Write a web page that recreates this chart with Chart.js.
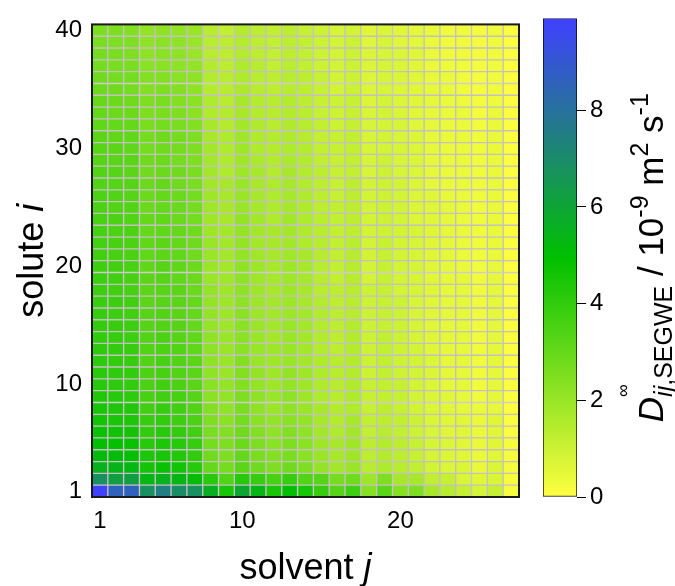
<!DOCTYPE html>
<html>
<head>
<meta charset="utf-8">
<script src="https://cdn.jsdelivr.net/npm/chart.js@4.4.1/dist/chart.umd.min.js"></script>
<style>
  html, body { margin: 0; padding: 0; background: #fff; }
  #wrap { position: relative; width: 675px; height: 586px; }
  #wrap canvas { position: absolute; left: 0; top: 0; }
</style>
</head>
<body>
<div id="wrap">
  <canvas id="heat" width="675" height="586"></canvas>
  <canvas id="cbar" width="675" height="586"></canvas>
</div>
<script>
// axes
const solventLabels = ['1','2','3','4','5','6','7','8','9','10','11','12','13','14','15','16','17','18','19','20','21','22','23','24','25','26','27'];
const soluteNumbers = [1,2,3,4,5,6,7,8,9,10,11,12,13,14,15,16,17,18,19,20,21,22,23,24,25,26,27,28,29,30,31,32,33,34,35,36,37,38,39,40];
const xTickLabels = ['1', '10', '20'];
const yTickValues = [1, 10, 20, 30, 40];
const cbTickValues = [0, 2, 4, 6, 8];
const cbMax = 9.9;

// D_ij (10^-9 m^2/s), one array per solute i, solvents 1..27
const solute01 = [9.9, 8.6, 8.6, 6.8, 7.5, 6.9, 6.8, 5.6, 4.5, 5.9, 5.3, 4.5, 5.0, 4.5, 3.9, 3.3, 3.75, 2.35, 3.2, 2.35, 2.5, 1.7, 1.4, 1.1, 0.8, 1.1, 0.15];
const solute02 = [6.8, 6.25, 6.25, 5.3, 5.5, 5.3, 5.1, 4.2, 3.4, 4.2, 3.9, 3.6, 3.9, 3.4, 3.3, 2.65, 2.8, 1.9, 2.5, 1.7, 1.7, 1.25, 1.1, 0.75, 0.6, 0.75, 0.15];
const solute03 = [5.5, 5.4, 5.3, 4.6, 4.8, 4.6, 4.2, 3.0, 2.7, 3.2, 2.8, 2.5, 2.8, 2.5, 2.1, 1.8, 2.0, 1.4, 1.6, 1.4, 1.2, 0.9, 0.7, 0.7, 0.4, 0.7, 0.2];
const solute04 = [5.2, 5.1, 5.0, 4.4, 4.5, 4.3, 4.0, 2.8, 2.5, 3.0, 2.6, 2.4, 2.6, 2.3, 2.0, 1.7, 1.9, 1.3, 1.5, 1.3, 1.1, 0.8, 0.7, 0.6, 0.4, 0.6, 0.2];
const solute05 = [5.0, 4.9, 4.8, 4.2, 4.4, 4.2, 3.9, 2.7, 2.5, 2.9, 2.5, 2.3, 2.5, 2.3, 1.9, 1.7, 1.9, 1.3, 1.5, 1.3, 1.1, 0.8, 0.7, 0.6, 0.4, 0.6, 0.2];
const solute06 = [4.8, 4.7, 4.6, 4.0, 4.2, 4.0, 3.7, 2.6, 2.4, 2.8, 2.4, 2.2, 2.4, 2.2, 1.8, 1.6, 1.8, 1.2, 1.4, 1.2, 1.0, 0.8, 0.6, 0.6, 0.4, 0.6, 0.1];
const solute07 = [4.6, 4.5, 4.4, 3.9, 4.0, 3.8, 3.5, 2.5, 2.3, 2.7, 2.3, 2.1, 2.3, 2.1, 1.7, 1.5, 1.7, 1.2, 1.3, 1.2, 1.0, 0.7, 0.6, 0.6, 0.4, 0.6, 0.1];
const solute08 = [4.5, 4.4, 4.3, 3.7, 3.9, 3.7, 3.4, 2.4, 2.2, 2.6, 2.2, 2.0, 2.2, 2.0, 1.7, 1.5, 1.6, 1.1, 1.3, 1.1, 0.9, 0.7, 0.6, 0.5, 0.4, 0.5, 0.1];
const solute09 = [4.3, 4.2, 4.1, 3.6, 3.7, 3.6, 3.3, 2.3, 2.1, 2.5, 2.2, 2.0, 2.2, 1.9, 1.6, 1.4, 1.6, 1.1, 1.2, 1.1, 0.9, 0.7, 0.6, 0.5, 0.3, 0.5, 0.1];
const solute10 = [4.2, 4.1, 4.0, 3.5, 3.7, 3.5, 3.2, 2.3, 2.1, 2.4, 2.1, 1.9, 2.1, 1.9, 1.6, 1.4, 1.6, 1.1, 1.2, 1.1, 0.9, 0.7, 0.5, 0.5, 0.3, 0.5, 0.1];
const solute11 = [4.15, 4.1, 4.0, 3.5, 3.6, 3.4, 3.2, 2.2, 2.0, 2.4, 2.1, 1.9, 2.1, 1.9, 1.6, 1.4, 1.5, 1.0, 1.2, 1.0, 0.9, 0.7, 0.5, 0.5, 0.3, 0.5, 0.1];
const solute12 = [4.1, 4.0, 3.9, 3.4, 3.6, 3.4, 3.2, 2.2, 2.0, 2.4, 2.0, 1.9, 2.0, 1.8, 1.6, 1.4, 1.5, 1.0, 1.2, 1.0, 0.9, 0.7, 0.5, 0.5, 0.3, 0.5, 0.1];
const solute13 = [4.05, 4.0, 3.9, 3.4, 3.5, 3.4, 3.1, 2.2, 2.0, 2.3, 2.0, 1.9, 2.0, 1.8, 1.5, 1.3, 1.5, 1.0, 1.2, 1.0, 0.9, 0.6, 0.5, 0.5, 0.3, 0.5, 0.1];
const solute14 = [4.0, 3.9, 3.8, 3.4, 3.5, 3.3, 3.1, 2.2, 2.0, 2.3, 2.0, 1.8, 2.0, 1.8, 1.5, 1.3, 1.5, 1.0, 1.2, 1.0, 0.8, 0.6, 0.5, 0.5, 0.3, 0.5, 0.1];
const solute15 = [3.95, 3.9, 3.8, 3.3, 3.4, 3.3, 3.0, 2.1, 1.9, 2.3, 2.0, 1.8, 2.0, 1.8, 1.5, 1.3, 1.5, 1.0, 1.1, 1.0, 0.8, 0.6, 0.5, 0.5, 0.3, 0.5, 0.1];
const solute16 = [3.9, 3.8, 3.7, 3.3, 3.4, 3.2, 3.0, 2.1, 1.9, 2.3, 1.9, 1.8, 1.9, 1.8, 1.5, 1.3, 1.4, 1.0, 1.1, 1.0, 0.8, 0.6, 0.5, 0.5, 0.3, 0.5, 0.1];
const solute17 = [3.85, 3.8, 3.7, 3.2, 3.3, 3.2, 3.0, 2.1, 1.9, 2.2, 1.9, 1.8, 1.9, 1.7, 1.5, 1.3, 1.4, 1.0, 1.1, 1.0, 0.8, 0.6, 0.5, 0.5, 0.3, 0.5, 0.1];
const solute18 = [3.8, 3.7, 3.6, 3.2, 3.3, 3.2, 2.9, 2.1, 1.9, 2.2, 1.9, 1.7, 1.9, 1.7, 1.4, 1.3, 1.4, 1.0, 1.1, 0.9, 0.8, 0.6, 0.5, 0.5, 0.3, 0.5, 0.1];
const solute19 = [3.8, 3.7, 3.6, 3.2, 3.3, 3.1, 2.9, 2.0, 1.9, 2.2, 1.9, 1.7, 1.9, 1.7, 1.4, 1.2, 1.4, 0.9, 1.1, 0.9, 0.8, 0.6, 0.5, 0.5, 0.3, 0.5, 0.1];
const solute20 = [3.75, 3.7, 3.6, 3.1, 3.3, 3.1, 2.9, 2.0, 1.8, 2.2, 1.9, 1.7, 1.9, 1.7, 1.4, 1.2, 1.4, 0.9, 1.1, 0.9, 0.8, 0.6, 0.5, 0.4, 0.3, 0.45, 0.1];
const solute21 = [3.7, 3.6, 3.5, 3.1, 3.2, 3.1, 2.8, 2.0, 1.8, 2.1, 1.85, 1.7, 1.85, 1.7, 1.4, 1.2, 1.4, 0.9, 1.1, 0.9, 0.8, 0.6, 0.5, 0.4, 0.3, 0.4, 0.1];
const solute22 = [3.65, 3.6, 3.5, 3.1, 3.2, 3.0, 2.8, 2.0, 1.8, 2.1, 1.8, 1.7, 1.8, 1.6, 1.4, 1.2, 1.35, 0.9, 1.1, 0.9, 0.8, 0.6, 0.5, 0.4, 0.3, 0.4, 0.1];
const solute23 = [3.6, 3.5, 3.5, 3.0, 3.1, 3.0, 2.8, 1.9, 1.8, 2.1, 1.8, 1.7, 1.8, 1.6, 1.4, 1.2, 1.3, 0.9, 1.0, 0.9, 0.8, 0.6, 0.5, 0.4, 0.3, 0.4, 0.1];
const solute24 = [3.55, 3.5, 3.4, 3.0, 3.1, 2.9, 2.7, 1.9, 1.7, 2.1, 1.8, 1.6, 1.8, 1.6, 1.35, 1.2, 1.3, 0.9, 1.0, 0.9, 0.7, 0.6, 0.5, 0.4, 0.3, 0.4, 0.1];
const solute25 = [3.5, 3.4, 3.4, 2.9, 3.0, 2.9, 2.7, 1.9, 1.7, 2.0, 1.75, 1.6, 1.75, 1.6, 1.3, 1.2, 1.3, 0.9, 1.0, 0.9, 0.7, 0.6, 0.5, 0.4, 0.3, 0.4, 0.1];
const solute26 = [3.45, 3.4, 3.3, 2.9, 3.0, 2.9, 2.7, 1.9, 1.7, 2.0, 1.7, 1.6, 1.7, 1.55, 1.3, 1.1, 1.3, 0.9, 1.0, 0.9, 0.7, 0.6, 0.45, 0.4, 0.3, 0.4, 0.1];
const solute27 = [3.4, 3.3, 3.3, 2.9, 3.0, 2.8, 2.6, 1.8, 1.7, 2.0, 1.7, 1.6, 1.7, 1.5, 1.3, 1.1, 1.3, 0.85, 1.0, 0.85, 0.7, 0.5, 0.4, 0.4, 0.3, 0.4, 0.1];
const solute28 = [3.35, 3.3, 3.2, 2.8, 2.9, 2.8, 2.6, 1.8, 1.6, 1.9, 1.7, 1.5, 1.7, 1.5, 1.3, 1.1, 1.2, 0.8, 1.0, 0.8, 0.7, 0.5, 0.4, 0.4, 0.3, 0.4, 0.1];
const solute29 = [3.3, 3.2, 3.2, 2.8, 2.9, 2.7, 2.5, 1.8, 1.6, 1.9, 1.65, 1.5, 1.65, 1.5, 1.25, 1.1, 1.2, 0.8, 1.0, 0.8, 0.7, 0.5, 0.4, 0.4, 0.3, 0.4, 0.1];
const solute30 = [3.25, 3.2, 3.1, 2.7, 2.8, 2.7, 2.5, 1.8, 1.6, 1.9, 1.6, 1.5, 1.6, 1.5, 1.2, 1.1, 1.2, 0.8, 0.9, 0.8, 0.7, 0.5, 0.4, 0.4, 0.3, 0.4, 0.1];
const solute31 = [3.2, 3.1, 3.1, 2.7, 2.8, 2.7, 2.5, 1.7, 1.6, 1.9, 1.6, 1.5, 1.6, 1.4, 1.2, 1.1, 1.2, 0.8, 0.9, 0.8, 0.7, 0.5, 0.4, 0.4, 0.3, 0.4, 0.1];
const solute32 = [3.1, 3.0, 3.0, 2.6, 2.7, 2.6, 2.4, 1.7, 1.5, 1.8, 1.55, 1.4, 1.55, 1.4, 1.2, 1.0, 1.15, 0.8, 0.9, 0.8, 0.65, 0.5, 0.4, 0.4, 0.25, 0.4, 0.1];
const solute33 = [3.0, 2.9, 2.9, 2.5, 2.6, 2.5, 2.3, 1.6, 1.5, 1.7, 1.5, 1.4, 1.5, 1.35, 1.1, 1.0, 1.1, 0.75, 0.9, 0.75, 0.6, 0.5, 0.4, 0.4, 0.2, 0.4, 0.1];
const solute34 = [2.95, 2.9, 2.8, 2.5, 2.6, 2.4, 2.3, 1.6, 1.4, 1.7, 1.5, 1.4, 1.5, 1.3, 1.1, 1.0, 1.1, 0.7, 0.9, 0.7, 0.6, 0.5, 0.4, 0.35, 0.2, 0.35, 0.1];
const solute35 = [2.85, 2.8, 2.7, 2.4, 2.5, 2.4, 2.2, 1.5, 1.4, 1.65, 1.4, 1.3, 1.4, 1.3, 1.1, 0.9, 1.05, 0.7, 0.8, 0.7, 0.6, 0.5, 0.4, 0.3, 0.2, 0.3, 0.1];
const solute36 = [2.8, 2.7, 2.7, 2.4, 2.4, 2.3, 2.2, 1.5, 1.4, 1.6, 1.4, 1.3, 1.4, 1.3, 1.1, 0.9, 1.0, 0.7, 0.8, 0.7, 0.6, 0.45, 0.4, 0.3, 0.2, 0.3, 0.1];
const solute37 = [2.7, 2.6, 2.6, 2.3, 2.3, 2.2, 2.1, 1.5, 1.3, 1.6, 1.4, 1.2, 1.35, 1.2, 1.0, 0.9, 1.0, 0.7, 0.8, 0.7, 0.6, 0.4, 0.35, 0.3, 0.2, 0.3, 0.1];
const solute38 = [2.65, 2.6, 2.5, 2.2, 2.3, 2.2, 2.0, 1.4, 1.3, 1.5, 1.3, 1.2, 1.3, 1.2, 1.0, 0.9, 1.0, 0.7, 0.8, 0.7, 0.6, 0.4, 0.3, 0.3, 0.2, 0.3, 0.1];
const solute39 = [2.6, 2.55, 2.5, 2.2, 2.3, 2.2, 2.0, 1.4, 1.3, 1.5, 1.3, 1.2, 1.3, 1.2, 1.0, 0.9, 1.0, 0.65, 0.8, 0.65, 0.55, 0.4, 0.3, 0.3, 0.2, 0.3, 0.1];
const solute40 = [2.55, 2.5, 2.45, 2.1, 2.2, 2.1, 2.0, 1.4, 1.2, 1.5, 1.3, 1.2, 1.3, 1.1, 1.0, 0.8, 0.9, 0.6, 0.7, 0.6, 0.5, 0.4, 0.3, 0.3, 0.2, 0.3, 0.1];

const soluteRows = [solute01, solute02, solute03, solute04, solute05, solute06, solute07, solute08, solute09, solute10,
  solute11, solute12, solute13, solute14, solute15, solute16, solute17, solute18, solute19, solute20,
  solute21, solute22, solute23, solute24, solute25, solute26, solute27, solute28, solute29, solute30,
  solute31, solute32, solute33, solute34, solute35, solute36, solute37, solute38, solute39, solute40];

// yellow -> green -> blue palette over [0, cbMax]
const palette = [[255, 255, 64], [0, 192, 0], [64, 64, 255]];
const FONT = "'Liberation Sans', Arial, Helvetica, sans-serif";
const gridColor = '#c4c0c4';

function colorFor(v) {
  let t = Math.max(0, Math.min(1, v / cbMax)) * 2;
  const k = t >= 1 ? 1 : 0;
  t = t - k;
  const a = palette[k], b = palette[k + 1];
  const c = a.map((x, n) => Math.round(x + (b[n] - x) * t));
  return `rgb(${c[0]},${c[1]},${c[2]})`;
}

// draws a line of mixed text (italic, sub/superscript) centred on (cx, cy)
function drawRich(ctx, parts, cx, cy, angle, size) {
  const fontOf = p => `${p.italic ? 'italic ' : ''}${Math.round(size * (p.scale || 1))}px ${FONT}`;
  let total = 0;
  parts.forEach(p => {
    ctx.font = fontOf(p);
    p.w = ctx.measureText(p.t).width;
    if (!p.stay) total += p.w;
  });
  ctx.save();
  ctx.translate(cx, cy);
  ctx.rotate(angle);
  ctx.textBaseline = 'alphabetic';
  ctx.textAlign = 'left';
  let x = -total / 2;
  const base = size * 0.36;
  parts.forEach(p => {
    ctx.font = fontOf(p);
    ctx.fillText(p.t, x, base + (p.dy || 0) * size);
    if (!p.stay) x += p.w;
  });
  ctx.restore();
}

const heatFrame = {
  id: 'heatFrame',
  afterDraw(chart) {
    const { ctx, chartArea: a } = chart;
    ctx.save();
    ctx.strokeStyle = '#1a1a1a';
    ctx.lineWidth = 2;
    ctx.strokeRect(a.left, a.top, a.right - a.left, a.bottom - a.top);
    ctx.fillStyle = '#000';
    drawRich(ctx, [{ t: 'solvent ' }, { t: 'j', italic: true }], (a.left + a.right) / 2, 566, 0, 36);
    drawRich(ctx, [{ t: 'solute ' }, { t: 'i', italic: true }], 30, (a.top + a.bottom) / 2, -Math.PI / 2, 36);
    ctx.restore();
  }
};

const datasets = soluteRows.map((row, k) => {
  const i = soluteNumbers[k];
  return {
    label: 'solute ' + i,
    data: row.map(() => [i - 0.5, i + 0.5]),
    backgroundColor: row.map(colorFor),
    borderColor: gridColor,
    borderWidth: 1,
    borderSkipped: false,
    grouped: false,
    barPercentage: 1,
    categoryPercentage: 1
  };
});

new Chart(document.getElementById('heat'), {
  type: 'bar',
  data: { labels: solventLabels, datasets: datasets },
  options: {
    responsive: false,
    animation: false,
    layout: { padding: { left: 0, top: 15, right: 156, bottom: 0 } },
    plugins: { legend: { display: false }, tooltip: { enabled: false } },
    scales: {
      x: {
        type: 'category',
        grid: { display: false, drawTicks: false },
        border: { display: false },
        afterFit: ax => { ax.height = 89; },
        ticks: {
          autoSkip: false,
          maxRotation: 0,
          padding: 10,
          color: '#000',
          font: { family: FONT, size: 24 },
          callback: (val, idx) => xTickLabels.includes(solventLabels[idx]) ? solventLabels[idx] : ''
        }
      },
      y: {
        type: 'linear',
        min: 0.5,
        max: 40.5,
        grid: { display: false, drawTicks: false },
        border: { display: false },
        afterFit: ax => { ax.width = 92; },
        afterBuildTicks: ax => { ax.ticks = yTickValues.map(v => ({ value: v })); },
        ticks: {
          padding: 10,
          color: '#000',
          font: { family: FONT, size: 24 }
        }
      }
    }
  },
  plugins: [heatFrame]
});

const cbTitle = {
  id: 'cbTitle',
  afterDraw(chart) {
    const { ctx, chartArea: a } = chart;
    ctx.save();
    ctx.fillStyle = '#000';
    drawRich(ctx, [
      { t: 'D', italic: true },
      { t: '\u221E', scale: 0.5, dy: -0.95, stay: true },
      { t: 'ij', italic: true, scale: 0.7, dy: 0.28 },
      { t: ',SEGWE', scale: 0.7, dy: 0.28 },
      { t: ' / 10' },
      { t: '-9', scale: 0.7, dy: -0.42 },
      { t: ' m' },
      { t: '2', scale: 0.7, dy: -0.42 },
      { t: ' s' },
      { t: '-1', scale: 0.7, dy: -0.42 }
    ], 650, (a.top + a.bottom) / 2, -Math.PI / 2, 35);
    ctx.restore();
  }
};

new Chart(document.getElementById('cbar'), {
  type: 'bar',
  data: {
    labels: ['cb'],
    datasets: [{
      data: [[0, cbMax]],
      backgroundColor: c => {
        const ch = c.chart;
        if (!ch.chartArea) return colorFor(0);
        const y = ch.scales.y;
        const g = ch.ctx.createLinearGradient(0, y.getPixelForValue(0), 0, y.getPixelForValue(cbMax));
        g.addColorStop(0, colorFor(0));
        g.addColorStop(0.5, colorFor(cbMax / 2));
        g.addColorStop(1, colorFor(cbMax));
        return g;
      },
      borderColor: '#000',
      borderWidth: 1,
      borderSkipped: false,
      barPercentage: 1,
      categoryPercentage: 1
    }]
  },
  options: {
    responsive: false,
    animation: false,
    layout: { padding: { left: 543, top: 15, right: 0, bottom: 89 } },
    plugins: { legend: { display: false }, tooltip: { enabled: false } },
    scales: {
      x: { display: false },
      y: {
        position: 'right',
        min: 0,
        max: cbMax,
        afterFit: ax => { ax.width = 98; },
        afterBuildTicks: ax => { ax.ticks = cbTickValues.map(v => ({ value: v })); },
        grid: { drawOnChartArea: false, drawTicks: true, tickLength: 9, color: '#000', lineWidth: 1 },
        border: { display: false },
        ticks: { padding: 4, color: '#000', font: { family: FONT, size: 24 } }
      }
    }
  },
  plugins: [cbTitle]
});
</script>
</body>
</html>
